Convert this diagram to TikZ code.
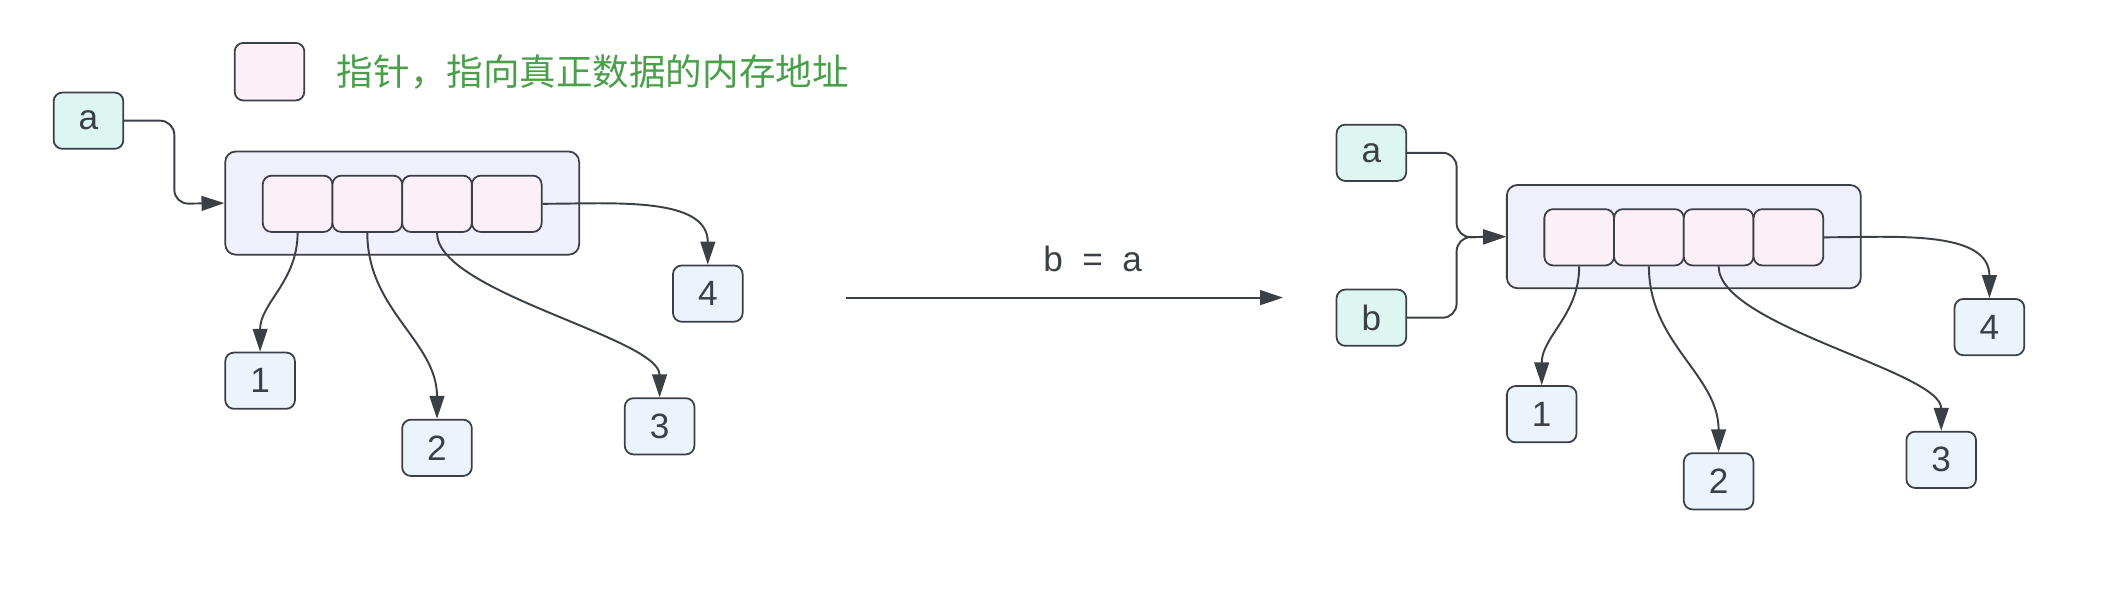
\documentclass[tikz,border=0pt]{standalone}
\usepackage{fontspec}
\setmainfont{Liberation Sans}
\newfontfamily\cjk{Noto Sans CJK SC}
\usetikzlibrary{arrows.meta,positioning}
\definecolor{edgecol}{HTML}{3B3F46}
\definecolor{varfill}{HTML}{DDF6F2}
\definecolor{memfill}{HTML}{F0F0FC}
\definecolor{cellfill}{HTML}{FCF0F8}
\definecolor{numfill}{HTML}{EBF3FD}
\definecolor{keygreen}{HTML}{4A9F4A}
\tikzset{
  unitbox/.style={draw=edgecol, line width=0.5pt, rounded corners=2.5pt, inner sep=0pt,
    minimum width=0.697cm, minimum height=0.563cm, text=edgecol,
    font=\fontsize{10}{12}\selectfont},
  varbox/.style={unitbox, fill=varfill},
  numbox/.style={unitbox, fill=numfill},
  cellbox/.style={unitbox, fill=cellfill},
  membox/.style={draw=edgecol, line width=0.5pt, rounded corners=3pt, fill=memfill,
    minimum width=3.539cm, minimum height=1.032cm, inner sep=0pt},
  pointer/.style={draw=edgecol, line width=0.55pt, -{Triangle[length=6.5pt,width=4.2pt]}},
}
\begin{document}
\begin{tikzpicture}
\useasboundingbox (0,0) rectangle (21.02,-5.92);
% legend
\node[cellbox, minimum height=0.576cm] (key) at (2.695,-0.717) {};
\node[right=0.31cm of key, inner sep=0pt, text=keygreen, font=\cjk\fontsize{10.4}{12}\selectfont] (keytext) {指针，指向真正数据的内存地址};
% both memory pictures
\foreach \s/\dx/\dy in {l/0/0, r/12.816/-0.335}{
  \begin{scope}[shift={(\dx,\dy)}]
    \node[membox] (\s box) at (4.022,-2.031) {};
    \node[cellbox] (\s c1) at (2.976,-2.038) {};
    \node[cellbox] (\s c2) at (3.673,-2.038) {};
    \node[cellbox] (\s c3) at (4.370,-2.038) {};
    \node[cellbox] (\s c4) at (5.068,-2.038) {};
    \node[numbox] (\s n1) at (2.601,-3.807) {1};
    \node[numbox] (\s n2) at (4.370,-4.478) {2};
    \node[numbox] (\s n3) at (6.596,-4.263) {3};
    \node[numbox] (\s n4) at (7.078,-2.936) {4};
    \draw[pointer] (\s c1.south) to[out=-90,in=90] (\s n1.north);
    \draw[pointer] (\s c2.south) to[out=-90,in=90] (\s n2.north);
    \draw[pointer] (\s c3.south) to[out=-90,in=90,looseness=0.55] (\s n3.north);
    \draw[pointer] (\s c4.east) to[out=0,in=90] (\s n4.north);
  \end{scope}
}
% before
\node[varbox] (la) at (0.885,-1.207) {a};
\coordinate (lj) at (1.743,-2.038);
\draw[pointer, rounded corners=4pt] (la.east) -| (lj) -- (lbox.west);
% assignment
\coordinate (from) at (8.459,-2.976);
\coordinate (to) at (12.83,-2.976);
\draw[pointer] (from) -- (to);
\node[text=edgecol, font=\fontsize{10}{12}\selectfont] (assign) at (10.926,-2.587) {b\ \ =\ \ a};
% after
\node[varbox] (ra) at (13.714,-1.528) {a};
\node[varbox] (rb) at (13.714,-3.177) {b};
\coordinate (rj) at (14.566,-2.373);
\draw[pointer, rounded corners=4pt] (ra.east) -| (rj) -- (rbox.west);
\draw[pointer, rounded corners=4pt] (rb.east) -| (rj) -- (rbox.west);
\end{tikzpicture}
\end{document}
